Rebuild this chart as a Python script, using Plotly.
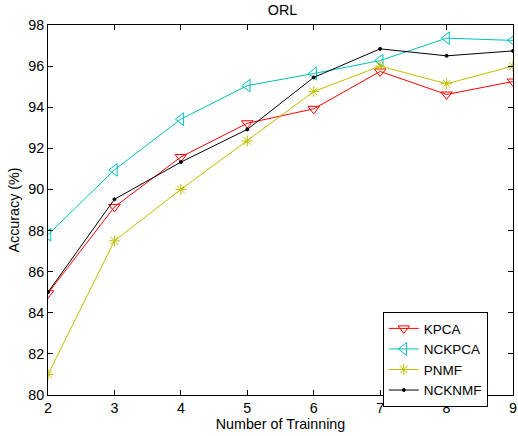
import plotly.graph_objects as go

x_train = [2, 3, 4, 5, 6, 7, 8, 9]
kpca = [84.95, 89.15, 91.58, 93.22, 93.92, 95.74, 94.62, 95.25]
nckpca = [87.8, 90.95, 93.42, 95.05, 95.64, 96.27, 97.36, 97.25]
pnmf = [81.0, 87.5, 90.0, 92.36, 94.76, 96.0, 95.14, 96.0]
ncknmf = [85.0, 89.52, 91.33, 92.92, 95.45, 96.84, 96.5, 96.74]

series = [
    ("KPCA", kpca, "#FF0000", "triangle-down-open", 10),
    ("NCKPCA", nckpca, "#00BFBF", "triangle-left-open", 11),
    ("PNMF", pnmf, "#BFBF00", "asterisk-open", 9),
    ("NCKNMF", ncknmf, "#000000", "circle", 3),
]

fig = go.Figure()
for name, vals, color, sym, sz in series:
    fig.add_trace(go.Scatter(
        x=x_train, y=vals, name=name, mode="lines+markers",
        line=dict(color=color, width=1),
        marker=dict(symbol=sym, size=sz, color=color, line=dict(color=color, width=1)),
    ))

font = "Liberation Sans, Arial, Helvetica, sans-serif"
fs = 14.3
fig.update_layout(
    width=518, height=436,
    margin=dict(l=48, r=1, t=25, b=41),
    paper_bgcolor="white", plot_bgcolor="white",
    font=dict(family=font, size=fs, color="#000000"),
    title=dict(text="ORL", x=(48 + 517) / 2 / 518, xanchor="center", y=1 - 10 / 436, yanchor="middle",
               font=dict(size=fs, family=font)),
    showlegend=True,
    legend=dict(
        x=0.72, y=0.224, xanchor="left", yanchor="top",
        bordercolor="#000000", borderwidth=1, bgcolor="white",
        font=dict(size=13.5, family=font), tracegroupgap=0,
        itemsizing="trace",
    ),
)
fig.update_xaxes(
    range=[2, 9], dtick=1, tick0=2, ticks="inside", ticklen=5, tickcolor="black",
    showline=True, linecolor="black", linewidth=1, mirror="ticks", showgrid=False, zeroline=False,
    title=dict(text="Number of Trainning", standoff=3, font=dict(size=fs)),
    tickfont=dict(size=fs), ticklabeloverflow="allow",
)
fig.update_yaxes(
    range=[80, 98], dtick=2, tick0=80, ticks="inside", ticklen=5, tickcolor="black",
    showline=True, linecolor="black", linewidth=1, mirror="ticks", showgrid=False, zeroline=False,
    title=dict(text="Accuracy (%)", standoff=5, font=dict(size=fs)),
    tickfont=dict(size=fs),
)

fig.write_html("out.html")
